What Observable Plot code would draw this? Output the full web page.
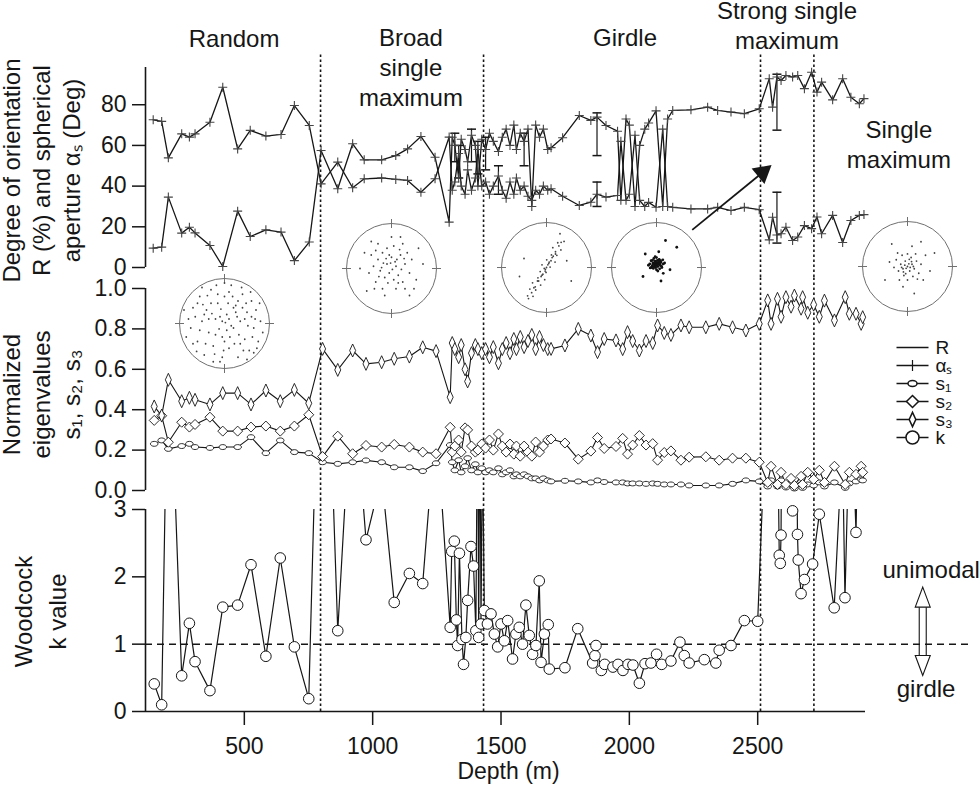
<!DOCTYPE html>
<html><head><meta charset="utf-8">
<script src="https://cdn.jsdelivr.net/npm/d3@7"></script>
<script src="https://cdn.jsdelivr.net/npm/@observablehq/plot@0.6"></script>
<style>
body{margin:0;background:#fff;}
#chart{position:relative;width:980px;height:785px;overflow:hidden;background:#fff;}
</style></head><body><div id="chart"></div>
<script>
// ---------------- data ----------------
const zoneDepth = [797, 1432, 2511, 2719];
const zoneLabel = ["Random", "Broad\nsingle\nmaximum", "Girdle", "Strong single\nmaximum", "Single\nmaximum"];
const zoneLabelDepth = [460, 1149, 1983, 2614, 3050];
const zoneLabelLevel = [108.6, 79.6, 109.1, 107.6, 48.7];

const topTicks = [0, 20, 40, 60, 80];
const midTicks = [0, 0.2, 0.4, 0.6, 0.8, 1.0];
const botTicks = [0, 1, 2, 3];
const depthTicks = [500, 1000, 1500, 2000, 2500];

// R (%) and alpha_s (deg)
const rDepth = [145,178,204,256,286,308,366,416,474,523,584,643,695,753,
 799,864,922,967,1035,1090,1136,1188,1243,1298,
 1310,1320,1335,1345,1360,1370,1385,1400,1410,1425,1440,1455,1470,1490,1505,1520,1535,1550,1560,1575,1590,1605,1620,1635,1650,1665,1682,
 1695,1740,1805,1850,1874,1909,1954,1967,1987,2000,2022,2040,2060,2075,2104,2130,2149,2169,2240,2305,2344,2396,2448,2506,
 2545,2558,2575,2591,2610,2636,2656,2682,2710,2731,2749,2792,2831,2863,2896,2914];
const rValue = [9.5,10,34.6,16.9,19.8,17,10.8,0.5,27.7,15.2,18.5,17.4,3.4,12.5,
 57.5,38.7,60.8,52.9,52.9,55,58.3,64.4,54.2,22.3,
 64,60,44,63,58,52,65,60,40,63,58,66,62,57,64,68,60,70,58,66,62,68,30,70,64,68,58,
 58.9,63.8,74.7,72.3,73.9,69.8,67,33,73,70,30,60,68,71,77,30,73,77.2,77.5,78.8,77.2,76.4,75.6,78,
 92.8,78.8,93.6,91.9,94.4,93.6,94.4,87.9,96,86.2,91.1,82.4,92.8,83.7,80.5,83];
const aValue = [72.6,71.8,53.9,65.7,64.1,65.7,71.4,88.6,58.3,67.4,64.6,65.4,79.6,69.8,
 41.1,51.8,39.2,43.6,44,43.3,42.8,37,43.6,64.1,
 38,42,56,40,36,48,38,44,58,40,42,36,40,45,38,34,42,36,44,38,40,35,33,38,36,40,38,
 38.7,35,30.5,32.1,36,34.6,35.4,62,33,36,65,33,30,32,29.6,68,30,29.6,28.8,28.8,29.6,28,29.6,28.4,
 13.6,24.7,16,16.6,19.8,13.3,15,20.6,19.1,24.8,16.6,25.6,12.3,23.1,25.6,26];
// error bars
const rErrDepth = [1320, 1385, 1440, 1590, 1874, 2575];
const rErrLo    = [52, 52, 48, 50, 55, 67.5];
const rErrHi    = [66, 68, 64, 66, 76, 95];
const aErrDepth = [1335, 1410, 1490, 1874, 2575];
const aErrLo    = [44, 46, 36, 30, 12];
const aErrHi    = [60, 62, 50, 42, 37];

// normalized eigenvalues
const eigDepth = [149,178,204,256,286,308,366,416,474,526,584,640,695,751,805,864,922,974,1035,1084,1143,1195,1247,1302,
 1310,1320,1335,1345,1360,1370,1385,1400,1410,1425,1440,1455,1470,1490,1505,1520,1535,1550,1560,1575,1590,1605,1620,1635,1650,1665,1682,
 1695,1749,1801,1850,1876,1902,1948,1974,1993,2013,2039,2065,2091,2110,2136,2162,2201,2233,2298,2350,2402,2454,2506,
 2539,2552,2577,2591,2610,2630,2643,2669,2675,2695,2718,2740,2760,2799,2841,2857,2883,2903,2909];
const s3Value = [0.416,0.371,0.548,0.442,0.459,0.449,0.426,0.482,0.482,0.426,0.495,0.442,0.498,0.432,0.701,0.597,0.693,0.627,0.635,0.652,0.663,0.709,0.690,0.462,
 0.73,0.70,0.66,0.72,0.60,0.54,0.68,0.72,0.70,0.68,0.70,0.66,0.71,0.63,0.70,0.73,0.68,0.75,0.70,0.76,0.71,0.74,0.77,0.70,0.76,0.72,0.70,
 0.701,0.718,0.800,0.767,0.685,0.750,0.743,0.700,0.784,0.740,0.693,0.740,0.730,0.817,0.780,0.770,0.817,0.808,0.808,0.825,0.808,0.792,0.825,
 0.941,0.825,0.949,0.860,0.957,0.910,0.965,0.900,0.957,0.880,0.920,0.860,0.940,0.842,0.957,0.875,0.875,0.825,0.858];
const s2Value = [0.347,0.370,0.239,0.338,0.314,0.327,0.363,0.294,0.294,0.314,0.319,0.294,0.319,0.375,0.168,0.269,0.182,0.223,0.215,0.228,0.215,0.190,0.182,0.313,
 0.19,0.22,0.25,0.19,0.31,0.30,0.22,0.19,0.20,0.23,0.21,0.25,0.20,0.28,0.22,0.19,0.23,0.18,0.22,0.17,0.22,0.19,0.17,0.24,0.19,0.22,0.25,
 0.255,0.235,0.155,0.195,0.262,0.208,0.218,0.258,0.180,0.225,0.272,0.225,0.232,0.150,0.188,0.196,0.150,0.165,0.167,0.150,0.160,0.160,0.140,
 0.040,0.120,0.030,0.090,0.030,0.060,0.025,0.070,0.030,0.090,0.055,0.100,0.040,0.120,0.030,0.090,0.080,0.120,0.090];
const s1Value = [0.231,0.248,0.206,0.220,0.231,0.215,0.211,0.215,0.215,0.264,0.185,0.248,0.190,0.185,0.140,0.132,0.140,0.149,0.140,0.115,0.115,0.096,0.135,0.225,
 0.14,0.10,0.15,0.09,0.12,0.16,0.10,0.13,0.09,0.11,0.09,0.10,0.09,0.11,0.08,0.09,0.10,0.07,0.08,0.07,0.08,0.07,0.06,0.06,0.05,0.06,0.05,
 0.045,0.048,0.045,0.040,0.050,0.042,0.040,0.040,0.035,0.035,0.035,0.033,0.035,0.033,0.030,0.030,0.030,0.025,0.025,0.025,0.033,0.050,0.045,
 0.020,0.050,0.020,0.050,0.015,0.030,0.010,0.030,0.013,0.030,0.025,0.040,0.020,0.040,0.013,0.035,0.045,0.055,0.050];

// Woodcock k
const kDepth = [149,178,204,256,286,308,366,416,474,526,584,640,695,751,805,864,922,974,1035,1084,1143,1195,1247,1302,
 1308,1318,1326,1331,1338,1348,1354,1363,1370,1383,1393,1402,1409,1413,1418,1422,1428,1435,1447,1461,1474,1487,1500,1513,1526,1545,1558,1571,1584,1597,1610,1623,1636,1649,1656,1669,1684,1688,
 1749,1799,1857,1866,1870,1891,1904,1936,1956,1975,1995,2014,2039,2061,2084,2106,2126,2162,2197,2214,2233,2292,2337,2350,2396,2448,2500,
 2548,2565,2584,2588,2591,2597,2636,2645,2655,2658,2669,2682,2714,2740,2798,2830,2840,2862,2883,2900];
const kValue = [0.41,0.10,6,0.53,1.31,0.74,0.31,1.55,1.58,2.18,0.82,2.28,0.96,0.19,7.8,1.2,5.1,2.55,3.5,1.62,2.05,1.9,4.4,1.25,
 2.38,2.53,1.36,0.98,2.35,1.07,0.70,1.10,1.65,2.45,2.16,1.20,5,1.10,5,1.30,4,1.50,1.30,1.45,1.15,0.96,1.30,1.05,1.35,0.78,1.15,1.25,1.00,1.58,1.13,0.85,0.98,1.94,0.73,1.15,1.29,0.63,
 0.65,1.23,0.72,0.83,0.98,0.61,0.70,0.66,0.70,0.61,0.70,0.69,0.42,0.71,0.72,0.85,0.70,0.75,1.03,0.83,0.72,0.77,0.72,0.91,0.98,1.35,1.34,
 6,8,2.32,2.20,2.62,7,2.98,7,2.63,2.25,1.75,1.96,2.19,2.93,1.54,4,1.69,5,2.66,6];

// arrow annotation (depth, R-axis units)
const arrowFrom = [2245, 18.5];
const arrowTo = [2519, 46.7];

// stereonets: zone depth, level on the R axis, c-axis points (unit circle)
const netDepth = [423, 1073, 1677, 2106, 3084];
const netLevel = [-27.5, -0.5, 0, 0, 0.5];
const net1Dots = [[-0.8,0.1],[-0.7,0.35],[-0.6,-0.4],[-0.55,0.6],[-0.5,0.05],[-0.45,-0.7],[-0.4,0.3],[-0.35,-0.2],[-0.3,0.75],[-0.25,-0.5],[-0.2,0.1],[-0.15,0.45],[-0.1,-0.85],[-0.05,-0.3],[0,0.6],[0.05,0.2],[0.1,-0.55],[0.15,0.85],[0.2,-0.1],[0.25,0.4],[0.3,-0.75],[0.35,0.05],[0.4,0.65],[0.45,-0.35],[0.5,0.25],[0.55,-0.6],[0.6,0.5],[0.65,-0.1],[0.7,0.3],[0.75,-0.4],[0.8,0.05],[-0.85,-0.3],[-0.75,-0.1],[-0.65,0.15],[-0.62,-0.62],[-0.48,0.42],[-0.42,-0.45],[-0.38,0.62],[-0.28,0.22],[-0.22,-0.68],[-0.18,0.85],[-0.12,-0.12],[-0.08,0.32],[-0.02,-0.6],[0.02,0.02],[0.08,0.45],[0.12,-0.3],[0.18,0.6],[0.22,-0.45],[0.28,0.15],[0.32,-0.25],[0.38,0.8],[0.42,-0.6],[0.48,0.45],[0.52,-0.05],[0.58,0.7],[0.62,-0.3],[0.68,0.1],[0.72,-0.55],[0.78,0.45],[0.85,-0.2],[-0.9,0.3],[-0.5,0.8],[0.0,0.9],[0.5,-0.8],[-0.1,0.15],[0.1,0.1],[-0.05,0.05],[0.15,-0.05],[-0.2,-0.25],[0.25,0.25],[-0.3,0.45],[0.05,-0.15],[0.3,0.5],[-0.15,0.65],[0.2,0.35],[-0.35,0.1],[0.0,-0.4],[0.35,-0.45],[-0.55,-0.15],[0.6,0.15],[-0.7,-0.45],[-0.25,-0.85],[0.1,0.7],[-0.45,0.2],[0.45,0.1],[-0.6,0.45],[0.65,-0.65],[-0.05,-0.75],[0.4,0.35]];
const net2Dots = [[-0.3,0.2],[-0.2,0.35],[-0.1,0.1],[0,0.25],[0.1,0.05],[0.2,0.3],[0.3,0.1],[-0.25,-0.05],[-0.15,-0.2],[-0.05,-0.1],[0.05,-0.25],[0.15,-0.15],[0.25,-0.3],[-0.35,-0.3],[-0.4,0.05],[0.35,0.35],[0.4,-0.1],[-0.1,0.45],[0.05,0.5],[-0.2,-0.45],[0.1,-0.45],[-0.45,0.3],[0.45,0.2],[-0.05,0.3],[0.12,0.2],[-0.18,0.12],[0.22,-0.02],[-0.28,-0.18],[0.02,-0.02],[-0.08,-0.32],[0.3,-0.45],[-0.5,-0.1],[0.55,-0.25],[-0.3,0.55],[0.25,0.55],[-0.6,0.35],[0.6,0.45],[-0.15,-0.6],[0.4,-0.6],[-0.55,-0.5],[0.7,0.1],[-0.7,0.0],[0.0,0.7],[-0.35,0.4],[0.18,0.42],[-0.12,0.22],[0.08,0.15],[-0.02,0.12],[0.28,0.22],[-0.22,0.02],[0.15,-0.32],[-0.38,-0.45],[0.5,-0.45],[0.2,0.7],[-0.45,0.6]];
const net3Dots = [[-0.40,-0.69],[-0.42,-0.63],[-0.30,-0.64],[-0.33,-0.56],[-0.37,-0.48],[-0.24,-0.50],[-0.25,-0.43],[-0.31,-0.34],[-0.13,-0.39],[-0.175,-0.30],[-0.19,-0.23],[-0.04,-0.27],[-0.10,-0.17],[-0.14,-0.09],[-0.01,-0.11],[-0.025,-0.04],[-0.10,0.06],[0.08,0.01],[0.05,0.09],[0.005,0.17],[0.19,0.12],[0.125,0.22],[0.11,0.28],[0.23,0.27],[0.2,0.35],[0.14,0.44],[0.32,0.39],[0.275,0.48],[0.25,0.55],[0.325,0.56],[0.39,0.58],[-0.05,-0.02],[0.03,0.06],[-0.08,-0.15],[0.1,0.15],[-0.2,-0.3],[0.15,0.25],[-0.12,-0.2],[0.06,0.12],[-0.28,-0.45],[0.2,0.3],[0,0.0],[-0.03,-0.08],[0.45,0.15],[-0.5,0.2],[0.55,-0.3],[0.3,0.75],[-0.6,-0.2]];
const net4Dots = [[0,0.08],[0.05,0.1],[-0.05,0.06],[0.03,0.02],[-0.03,0.14],[0.08,0.05],[-0.08,0.1],[0.02,0.16],[-0.02,0.0],[0.1,0.12],[-0.1,0.03],[0.06,0.18],[-0.06,0.2],[0.12,0.0],[-0.12,0.15],[0.0,0.22],[0.0,-0.05],[0.15,0.08],[-0.15,0.08],[0.07,-0.03],[-0.07,-0.02],[0.04,0.08],[-0.04,0.09],[0.01,0.11],[-0.01,0.05],[0.09,0.15],[-0.09,0.16],[0.11,0.03],[-0.11,0.0],[0.03,-0.08],[-0.03,0.24],[0.14,0.17],[-0.14,-0.01],[0.18,0.1],[-0.18,0.05],[0.02,0.04],[-0.02,0.12],[0.05,0.14],[-0.05,0.02],[0.08,0.09],[-0.08,0.07],[0.05,0.35],[-0.25,0.3],[0.3,-0.05],[0.1,-0.3],[-0.3,-0.2],[0.45,0.45],[0.2,0.6],[0.15,-0.13]];
const net5Dots = [[0,0],[0.1,0.05],[-0.1,-0.05],[0.05,-0.1],[-0.05,0.12],[0.15,-0.05],[-0.15,0.05],[0.2,0.12],[-0.2,-0.1],[0.08,0.2],[-0.08,-0.2],[0.25,-0.15],[-0.25,0.15],[0.0,0.28],[0.0,-0.3],[0.12,-0.22],[-0.12,0.25],[0.3,0.05],[-0.3,-0.02],[0.18,0.28],[-0.18,-0.3],[0.03,0.06],[-0.03,-0.04],[0.06,-0.02],[-0.06,0.03],[0.09,0.11],[-0.09,-0.12],[0.04,0.16],[-0.04,-0.16],[0.13,0.0],[-0.13,-0.02],[0.22,-0.28],[-0.22,0.3],[0.35,-0.3],[-0.4,0.1],[0.4,0.25],[0.1,0.45],[-0.1,-0.45],[0.5,-0.1],[-0.5,-0.3],[0.3,0.55],[-0.35,0.5],[0.6,0.3],[0.15,-0.6]];
const netDots = [net1Dots, net2Dots, net3Dots, net4Dots, net5Dots];

// legend
const legendKeys = ["R", "a", "s1", "s2", "s3", "k"];
const legendText = ["R", "α\u209B", "s\u2081", "s\u2082", "s\u2083", "k"];

// ---------------- build ----------------
const rData = rDepth.map((d, i) => ({depth: d, value: rValue[i]}));
const aData = rDepth.map((d, i) => ({depth: d, value: aValue[i]}));
const rErr = rErrDepth.map((d, i) => ({depth: d, lo: rErrLo[i], hi: rErrHi[i]}));
const aErr = aErrDepth.map((d, i) => ({depth: d, lo: aErrLo[i], hi: aErrHi[i]}));
const eig = eigDepth.map((d, i) => ({depth: d, s1: s1Value[i], s2: s2Value[i], s3: s3Value[i]}));
const kData = kDepth.map((d, i) => ({depth: d, k: kValue[i]}));
const zones = zoneLabel.map((t, i) => ({label: t, depth: zoneLabelDepth[i], level: zoneLabelLevel[i]}));
const errAll = rErr.concat(aErr);

const W = 980, H = 785, ML = 145, MR = 115;
const xDomain = [115, 2920];
const FONT = "'Liberation Sans', Arial, Helvetica, sans-serif";
const INK = "#161616";
function svgStyle(left, top) {
  return {position: "absolute", left: left + "px", top: top + "px", background: "transparent",
    overflow: "visible", fontFamily: FONT, fontSize: "24px", color: INK};
}
const sq = s => Math.sqrt(s / Math.PI);
const plusSym = {draw(c, s) { const r = sq(s); c.moveTo(-r, 0); c.lineTo(r, 0); c.moveTo(0, -r); c.lineTo(0, r); }};
const hlineSym = {draw(c, s) { const r = sq(s); c.moveTo(-r, 0); c.lineTo(r, 0); }};
const diamondSym = {draw(c, s) { const r = sq(s); c.moveTo(0, -r); c.lineTo(r, 0); c.lineTo(0, r); c.lineTo(-r, 0); c.closePath(); }};
const tallDiamondSym = {draw(c, s) { const r = sq(s); c.moveTo(0, -1.3 * r); c.lineTo(0.6 * r, 0); c.lineTo(0, 1.3 * r); c.lineTo(-0.6 * r, 0); c.closePath(); }};
const ellipseSym = {draw(c, s) { const r = sq(s), a = r, b = 0.65 * r, k = 0.5523;
  c.moveTo(a, 0); c.bezierCurveTo(a, k * b, k * a, b, 0, b); c.bezierCurveTo(-k * a, b, -a, k * b, -a, 0);
  c.bezierCurveTo(-a, -k * b, -k * a, -b, 0, -b); c.bezierCurveTo(k * a, -b, a, -k * b, a, 0); c.closePath(); }};
const headSym = {draw(c) { c.moveTo(0, -10); c.lineTo(7.5, 10); c.lineTo(-7.5, 10); c.closePath(); }};

const zoneRule = (y1, y2) => Plot.ruleX(zoneDepth, {y1, y2, stroke: INK, strokeWidth: 1.6, strokeDasharray: "2.5,2.5"});
const yAxis = (ticks, fmt) => Plot.axisY({ticks, tickSize: 13, tickPadding: 6, strokeWidth: 1.5, label: null, fontSize: 23, tickFormat: fmt});
const yLabel = (txt, dx, dy, lh) => Plot.text([txt], {frameAnchor: "left", text: d => d, textAnchor: "middle",
  rotate: -90, dx: dx - ML, dy, lineAnchor: "middle", lineHeight: lh, fontSize: 24, fill: INK});

const chart = document.getElementById("chart");

// ---- top panel: R and alpha_s ----
const topPlot = Plot.plot({
  width: W, height: H, marginLeft: ML, marginRight: MR, marginTop: 67, marginBottom: H - 267,
  x: {domain: xDomain, axis: null},
  y: {domain: [0, 98.3]},
  style: svgStyle(0, 0),
  marks: [
    zoneRule(-4.9, 105.2),
    Plot.ruleX([xDomain[0]], {y1: 0, y2: 98.3, stroke: INK, strokeWidth: 1.6}),
    yAxis(topTicks, d3.format("d")),
    Plot.ruleX(errAll, {x: "depth", y1: "lo", y2: "hi", stroke: INK, strokeWidth: 1.2}),
    Plot.dot(errAll, {x: "depth", y: "lo", symbol: hlineSym, r: 4.5, stroke: INK}),
    Plot.dot(errAll, {x: "depth", y: "hi", symbol: hlineSym, r: 4.5, stroke: INK}),
    Plot.line(rData, {x: "depth", y: "value", stroke: INK, strokeWidth: 1.3}),
    Plot.line(aData, {x: "depth", y: "value", stroke: INK, strokeWidth: 1.3}),
    Plot.dot(rData, {x: "depth", y: "value", symbol: plusSym, r: 4.5, stroke: "#444", strokeWidth: 1.1}),
    Plot.dot(aData, {x: "depth", y: "value", symbol: plusSym, r: 4.5, stroke: "#444", strokeWidth: 1.1}),
    Plot.link([0], {x1: arrowFrom[0], y1: arrowFrom[1], x2: arrowTo[0], y2: arrowTo[1], stroke: INK, strokeWidth: 1.8}),
    Plot.dot([0], {x: arrowTo[0], y: arrowTo[1], symbol: "triangle", r: 7.5, rotate: 50.6, fill: INK, stroke: "none"}),
    Plot.text(zones, {x: "depth", y: "level", text: "label", lineAnchor: "bottom", lineHeight: 1.25, fontSize: 24, fill: INK}),
    yLabel("Degree of orientation\nR (%) and spherical\naperture α\u209B (Deg)", 40, 3, 1.25)
  ]
});
chart.appendChild(topPlot);

// ---- middle panel: eigenvalues ----
const midPlot = Plot.plot({
  width: W, height: H, marginLeft: ML, marginRight: MR, marginTop: 288, marginBottom: H - 490,
  x: {domain: xDomain, axis: null},
  y: {domain: [0, 1]},
  style: svgStyle(0, 0),
  marks: [
    zoneRule(-0.0495, 1.054),
    Plot.ruleX([xDomain[0]], {y1: 0, y2: 1, stroke: INK, strokeWidth: 1.6}),
    yAxis(midTicks, d3.format(".1f")),
    Plot.line(eig, {x: "depth", y: "s3", stroke: INK, strokeWidth: 1.1}),
    Plot.line(eig, {x: "depth", y: "s2", stroke: INK, strokeWidth: 1.1}),
    Plot.line(eig, {x: "depth", y: "s1", stroke: INK, strokeWidth: 1.1}),
    Plot.dot(eig, {x: "depth", y: "s1", symbol: ellipseSym, r: 3.8, fill: "white", stroke: INK, strokeWidth: 0.9}),
    Plot.dot(eig, {x: "depth", y: "s2", symbol: diamondSym, r: 5, fill: "white", stroke: INK, strokeWidth: 0.9}),
    Plot.dot(eig, {x: "depth", y: "s3", symbol: tallDiamondSym, r: 5, fill: "white", stroke: INK, strokeWidth: 0.9}),
    yLabel("Normalized\neigenvalues\ns\u2081, s\u2082, s\u2083", 40, 5, 1.25)
  ]
});
chart.appendChild(midPlot);

// ---- bottom panel: Woodcock k ----
const botPlot = Plot.plot({
  width: W, height: H, marginLeft: ML, marginRight: MR, marginTop: 509, marginBottom: H - 711,
  x: {domain: xDomain},
  y: {domain: [0, 3]},
  style: svgStyle(0, 0),
  marks: [
    zoneRule(0, 3.134),
    Plot.ruleX([xDomain[0]], {y1: 0, y2: 3, stroke: INK, strokeWidth: 1.6}),
    Plot.ruleY([0], {x1: xDomain[0], x2: xDomain[1], stroke: INK, strokeWidth: 1.6}),
    Plot.ruleY([1], {x1: xDomain[0], x2: 3329, stroke: INK, strokeWidth: 1.5, strokeDasharray: "7,5"}),
    yAxis(botTicks, d3.format("d")),
    Plot.axisX({ticks: depthTicks, tickSize: 14, tickPadding: 12, strokeWidth: 1.5, label: null, fontSize: 23, tickFormat: d3.format("d")}),
    Plot.line(kData, {x: "depth", y: "k", stroke: INK, strokeWidth: 1.2, clip: true}),
    Plot.dot(kData.filter(d => d.k <= 3.05), {x: "depth", y: "k", r: 5.3, fill: "white", stroke: INK, strokeWidth: 1}),
    Plot.ruleX([3143], {y1: 0.807, y2: 1.55, dx: -3.5, stroke: INK, strokeWidth: 1.1}),
    Plot.ruleX([3143], {y1: 0.807, y2: 1.55, dx: 3.5, stroke: INK, strokeWidth: 1.1}),
    Plot.dot([0], {x: 3143, y: 1.698, symbol: headSym, fill: "white", stroke: INK, strokeWidth: 1.1}),
    Plot.dot([0], {x: 3143, y: 0.683, symbol: headSym, rotate: 180, fill: "white", stroke: INK, strokeWidth: 1.1}),
    Plot.text(["unimodal", "girdle"], {x: [3176, 3156], y: [1.99, 0.208], text: d => d, lineAnchor: "bottom", fontSize: 24, fill: INK}),
    yLabel("Woodcock\nk value", 38, 1, 1.42),
    Plot.text(["Depth (m)"], {frameAnchor: "bottom", text: d => d, dx: 3, dy: 67, lineAnchor: "bottom", fontSize: 23, fill: INK})
  ]
});
chart.appendChild(botPlot);

// ---- stereonets, placed through the top panel's scales ----
const xs = topPlot.scale("x"), ys = topPlot.scale("y");
const netTicks = [[0, 0.9, 0, 1.1], [0, -0.9, 0, -1.1], [0.9, 0, 1.1, 0], [-0.9, 0, -1.1, 0]];
const netR = 45, pad = 8;
netDepth.forEach((d, i) => {
  const cx = xs.apply(d), cy = ys.apply(netLevel[i]);
  const dense = i === 3;
  const p = Plot.plot({
    width: 2 * (netR + pad), height: 2 * (netR + pad), margin: pad,
    x: {domain: [-1, 1], axis: null}, y: {domain: [-1, 1], axis: null},
    style: svgStyle(Math.round(cx - netR - pad), Math.round(cy - netR - pad)),
    marks: [
      Plot.dot([[0, 0]], {x: q => q[0], y: q => q[1], r: netR, fill: "none", stroke: "#707070", strokeWidth: 1}),
      Plot.link(netTicks, {x1: q => q[0], y1: q => q[1], x2: q => q[2], y2: q => q[3], stroke: "#707070", strokeWidth: 1}),
      Plot.dot(netDots[i], {x: q => q[0], y: q => q[1], r: dense ? 1.4 : 0.9, fill: dense ? "#111" : "#444", stroke: "none"})
    ]
  });
  chart.appendChild(p);
});

// ---- legend ----
const legPlot = Plot.plot({
  width: 95, height: 140, margin: 0,
  x: {domain: [0, 1], range: [11, 43], axis: null},
  y: {type: "point", domain: legendKeys, range: [11.7, 121.7], axis: null},
  style: svgStyle(885, 325),
  marks: [
    Plot.link(legendKeys, {x1: 0, x2: 1, y1: d => d, y2: d => d, stroke: INK, strokeWidth: 1.3}),
    Plot.dot(["a"], {x: 0.5, y: d => d, symbol: plusSym, r: 5.5, stroke: INK, strokeWidth: 1.2}),
    Plot.dot(["s1"], {x: 0.5, y: d => d, symbol: ellipseSym, r: 4.5, fill: "white", stroke: INK}),
    Plot.dot(["s2"], {x: 0.5, y: d => d, symbol: diamondSym, r: 6, fill: "white", stroke: INK}),
    Plot.dot(["s3"], {x: 0.5, y: d => d, symbol: tallDiamondSym, r: 5.5, fill: "white", stroke: INK}),
    Plot.dot(["k"], {x: 0.5, y: d => d, r: 6.5, fill: "white", stroke: INK}),
    Plot.text(legendKeys, {x: 1, y: d => d, text: (d, i) => legendText[i], dx: 7, textAnchor: "start", fontSize: 19, fill: INK})
  ]
});
chart.appendChild(legPlot);
</script></body></html>
